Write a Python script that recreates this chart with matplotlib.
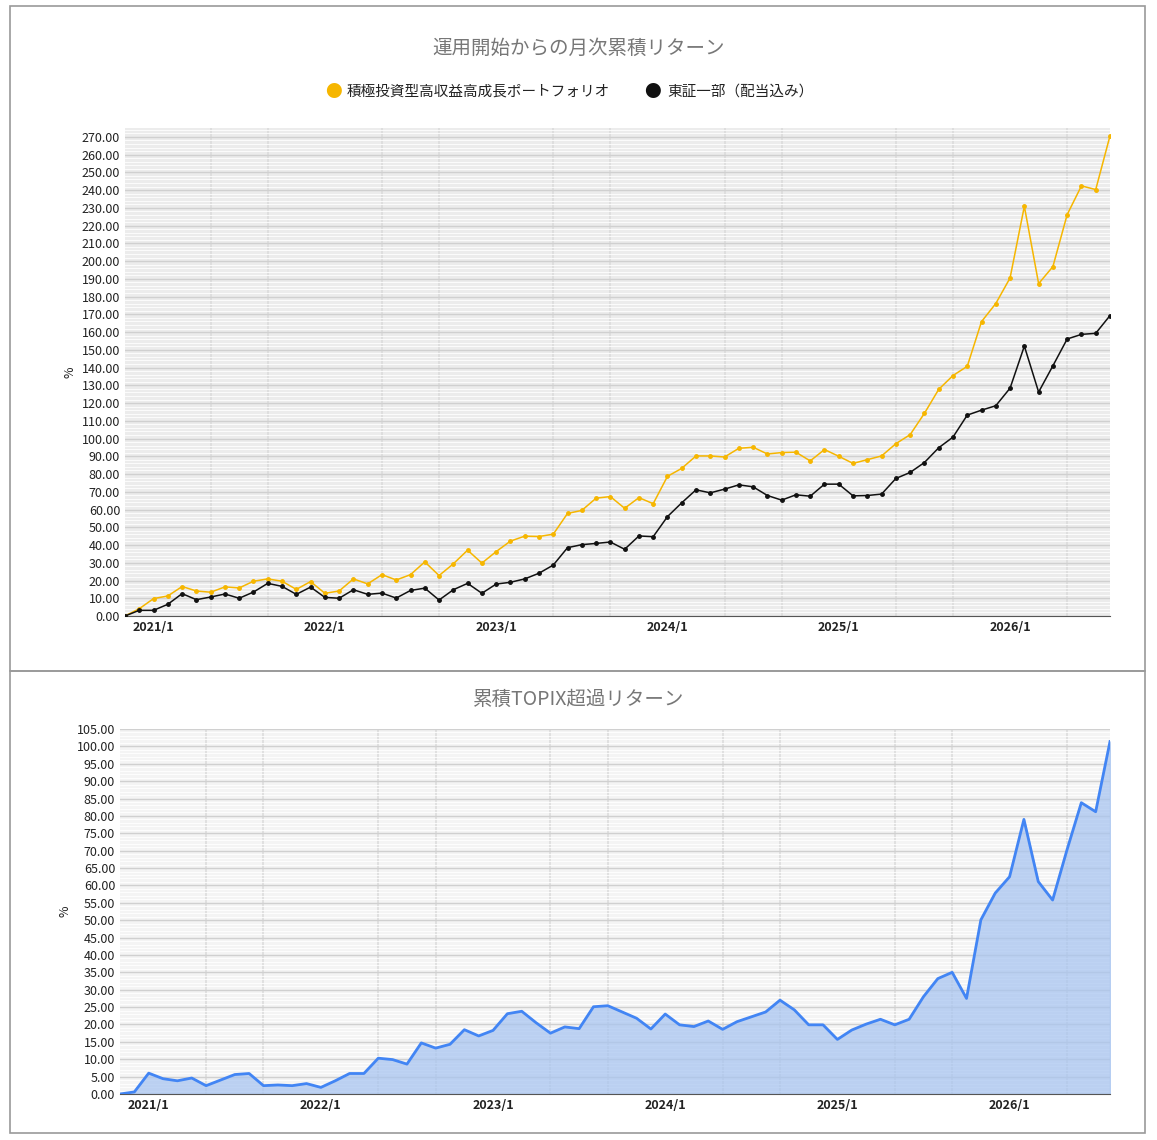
import matplotlib
matplotlib.use('Agg')
import numpy as np
import matplotlib.pyplot as plt
from matplotlib.patches import Rectangle
from matplotlib.ticker import MultipleLocator, FixedLocator, FormatStrFormatter

plt.rcParams['font.family'] = ['Noto Sans CJK JP', 'DejaVu Sans']

# monthly data, 2020/11 .. 2026/8
portfolio = [0, 4.1, 9.8, 11.3, 16.6, 14.1, 13.4, 16.4, 15.8, 19.6, 20.9, 19.6, 15.0, 19.4,
             12.8, 14.1, 20.9, 18.1, 23.3, 20.3, 23.3, 30.5, 22.8, 29.4, 37.1, 29.8, 36.3,
             42.2, 45.0, 44.8, 46.1, 57.8, 59.5, 66.4, 67.3, 60.7, 66.7, 63.3, 78.7, 83.2,
             90.2, 90.2, 89.6, 94.5, 95.1, 91.3, 92.1, 92.3, 87.4, 93.8, 90.0, 86.0, 88.1,
             90.2, 97.1, 102.2, 114.2, 127.7, 135.5, 140.7, 165.9, 176.1, 190.5, 230.9,
             187.3, 196.9, 226.2, 242.4, 240.3, 270.6]
topix = [0, 3.2, 3.2, 6.6, 12.6, 9.2, 10.7, 12.4, 10.0, 13.5, 18.4, 16.7, 12.2, 16.3,
         10.5, 10.0, 14.8, 12.2, 12.9, 10.1, 14.4, 15.7, 9.0, 14.8, 18.4, 12.8, 18.0, 19.0,
         20.9, 24.1, 28.7, 38.5, 40.2, 40.9, 41.7, 37.6, 45.1, 44.7, 56.0, 63.8, 71.1, 69.4,
         71.5, 73.9, 72.8, 67.9, 65.3, 68.3, 67.5, 74.3, 74.3, 67.7, 67.9, 68.7, 77.5, 80.9,
         86.5, 94.8, 100.8, 113.2, 116.0, 118.5, 128.4, 152.1, 126.2, 141.0, 156.1, 158.7,
         159.3, 169.3]
excess = [0, 0.6, 6.0, 4.4, 3.8, 4.6, 2.4, 4.0, 5.6, 5.9, 2.4, 2.6, 2.4, 3.0, 1.9, 3.8,
          5.9, 5.9, 10.3, 9.9, 8.6, 14.7, 13.2, 14.3, 18.5, 16.7, 18.3, 23.1, 23.8, 20.5,
          17.5, 19.3, 18.8, 25.1, 25.4, 23.6, 21.8, 18.7, 23.0, 19.9, 19.4, 21.0, 18.6, 20.8,
          22.2, 23.6, 27.0, 24.2, 19.9, 19.9, 15.7, 18.4, 20.1, 21.5, 19.9, 21.5, 28.0, 33.2,
          35.0, 27.5, 50.1, 57.8, 62.5, 79.0, 61.1, 55.8, 70.2, 83.8, 81.2, 101.4]
year_ticks = [2, 14, 26, 38, 50, 62]
year_labels = ['2021/1', '2022/1', '2023/1', '2024/1', '2025/1', '2026/1']

W, H = 1157, 1140
fig = plt.figure(figsize=(W / 100, H / 100), dpi=100)
x = np.arange(len(portfolio))

def fr(l, t, r, b):
    return [l / W, 1 - b / H, (r - l) / W, (b - t) / H]

for (l, t, r, b) in [(10, 6, 1145, 671), (10, 671, 1145, 1133)]:
    fig.patches.append(Rectangle((l / W, 1 - b / H), (r - l) / W, (b - t) / H,
                                 transform=fig.transFigure, fill=False,
                                 edgecolor='#9a9a9a', linewidth=1.2))

def style(ax, ymax, major, minor, bg):
    ax.set_facecolor(bg)
    ax.set_xlim(0, len(portfolio) - 1)
    ax.set_ylim(0, ymax)
    ax.yaxis.set_major_locator(MultipleLocator(major))
    ax.yaxis.set_minor_locator(MultipleLocator(minor))
    ax.yaxis.set_major_formatter(FormatStrFormatter('%.2f'))
    ax.xaxis.set_major_locator(FixedLocator(year_ticks))
    ax.set_xticklabels(year_labels, fontsize=9, fontweight='bold', color='#222222')
    ax.xaxis.set_minor_locator(FixedLocator(np.arange(2, len(portfolio), 4)))
    ax.grid(which='minor', axis='y', color='#ffffff', linewidth=0.6)
    ax.grid(which='major', axis='y', color='#d0d0d0', linewidth=1.0)
    ax.grid(which='minor', axis='x', color='#dcdcdc', linewidth=1.2)
    ax.tick_params(axis='both', which='both', length=0, labelsize=9, colors='#222222')
    for s in ['top', 'right', 'left']:
        ax.spines[s].set_visible(False)
    ax.spines['bottom'].set_color('#555555')
    ax.set_ylabel('%', fontsize=9, color='#222222')
    ax.set_axisbelow(True)

ax1 = fig.add_axes(fr(125, 128, 1110, 616))
style(ax1, 275, 10, 2, '#ececec')
ax1.set_ylim(0, 275)
ax1.plot(x, portfolio, color='#f6b600', linewidth=1.1, marker='o', markersize=2.5, zorder=3)
ax1.plot(x, topix, color='#111111', linewidth=1.1, marker='o', markersize=2.5, zorder=3)
fig.text(0.5, 1 - 48 / H, '運用開始からの月次累積リターン', ha='center', va='center',
         fontsize=14, color='#777777')
fig.text(0.281, 1 - 92 / H, '●', color='#f6b600', fontsize=12, ha='left', va='center')
fig.text(0.300, 1 - 92 / H, '積極投資型高収益高成長ポートフォリオ', fontsize=10.5,
         ha='left', va='center', color='#222222')
fig.text(0.557, 1 - 92 / H, '●', color='#111111', fontsize=12, ha='left', va='center')
fig.text(0.577, 1 - 92 / H, '東証一部（配当込み）', fontsize=10.5, ha='left', va='center',
         color='#222222')

ax2 = fig.add_axes(fr(120, 729, 1110, 1094))
style(ax2, 105, 5, 1, '#f4f4f4')
ax2.fill_between(x, excess, color='#a9c5f0', alpha=0.75, zorder=2)
ax2.plot(x, excess, color='#4285f4', linewidth=2, zorder=3)
fig.text(0.5, 1 - 699 / H, '累積TOPIX超過リターン', ha='center', va='center',
         fontsize=14, color='#777777')

fig.savefig('out.png', dpi=100)
